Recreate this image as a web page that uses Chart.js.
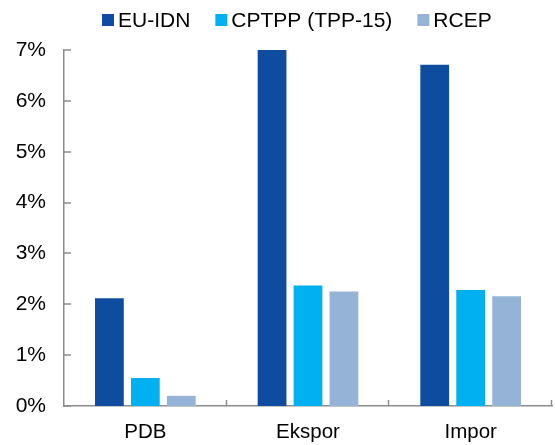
<!DOCTYPE html>
<html><head><meta charset="utf-8">
<script src="https://cdn.jsdelivr.net/npm/chart.js@4"></script>
<style>html,body{margin:0;padding:0;background:#fff}#wrap{width:555px;height:445px}</style>
</head><body><div id="wrap"><canvas id="c" width="555" height="445"></canvas></div>
<script>
const categories = ["PDB", "Ekspor", "Impor"];
const euIdn = [2.12, 7.0, 6.71];
const cptpp = [0.55, 2.37, 2.28];
const rcep = [0.2, 2.25, 2.16];
const seriesNames = ["EU-IDN", "CPTPP (TPP-15)", "RCEP"];
const seriesColors = ["#0d4c9f", "#00b0f0", "#95b3d7"];
const yTicks = [0, 1, 2, 3, 4, 5, 6, 7];

const axisColor = "#8c8c8c";
const FONT = "Liberation Sans, Arial, sans-serif";

const innerTicks = {
  id: "innerTicks",
  afterDatasetsDraw(chart) {
    const xs = chart.scales.x, ys = chart.scales.y, ctx = chart.ctx;
    const y0 = ys.getPixelForValue(0);
    const x0 = xs.left;
    ctx.save();
    ctx.strokeStyle = axisColor; ctx.lineWidth = 1.5;
    for (let i = 1; i <= categories.length; i++) {
      const x = Math.round(xs.getPixelForValue(i - 0.5)) - 0.5;
      ctx.beginPath(); ctx.moveTo(x, y0); ctx.lineTo(x, y0 - 6); ctx.stroke();
    }
    for (const v of yTicks) {
      const y = Math.round(ys.getPixelForValue(v));
      ctx.beginPath(); ctx.moveTo(x0, y); ctx.lineTo(x0 + 7, y); ctx.stroke();
    }
    ctx.restore();
  }
};

// Legend drawn from the datasets (small box, tight gap like the original)
const topLegend = {
  id: "topLegend",
  afterDraw(chart) {
    const ctx = chart.ctx;
    ctx.save();
    ctx.font = "21px " + FONT;
    ctx.textBaseline = "alphabetic";
    let x = 102;
    chart.data.datasets.forEach(ds => {
      ctx.fillStyle = ds.backgroundColor;
      ctx.fillRect(x, 14, 12, 12);
      x += 12 + 4;
      ctx.fillStyle = "#000";
      ctx.fillText(ds.label, x, 27);
      x += ctx.measureText(ds.label).width + 25;
    });
    ctx.restore();
  }
};

new Chart(document.getElementById("c"), {
  type: "bar",
  data: {
    labels: categories,
    datasets: seriesNames.map((n, i) => ({
      label: n,
      data: [euIdn, cptpp, rcep][i],
      backgroundColor: seriesColors[i]
    }))
  },
  options: {
    responsive: false, animation: false,
    devicePixelRatio: 1,
    layout: { padding: { left: 0, right: 3, top: 50, bottom: 0 } },
    datasets: { bar: { categoryPercentage: 0.663, barPercentage: 0.8 } },
    plugins: {
      legend: { display: false },
      tooltip: { enabled: false }
    },
    scales: {
      x: {
        grid: { display: false, drawTicks: false },
        border: { color: axisColor, width: 1.5 },
        ticks: { color: "#000", font: { family: FONT, size: 20.5 }, padding: 14 },
        afterFit: (s) => { s.height = 39; }
      },
      y: {
        min: 0, max: 7,
        afterBuildTicks: (s) => { s.ticks = yTicks.map(v => ({ value: v })); },
        grid: { display: false, drawTicks: false },
        border: { color: axisColor, width: 1.5 },
        ticks: { color: "#000", font: { family: FONT, size: 21 }, padding: 18, callback: v => v + "%" },
        afterFit: (s) => { s.width = 64; }
      }
    }
  },
  plugins: [innerTicks, topLegend]
});
</script></body></html>
